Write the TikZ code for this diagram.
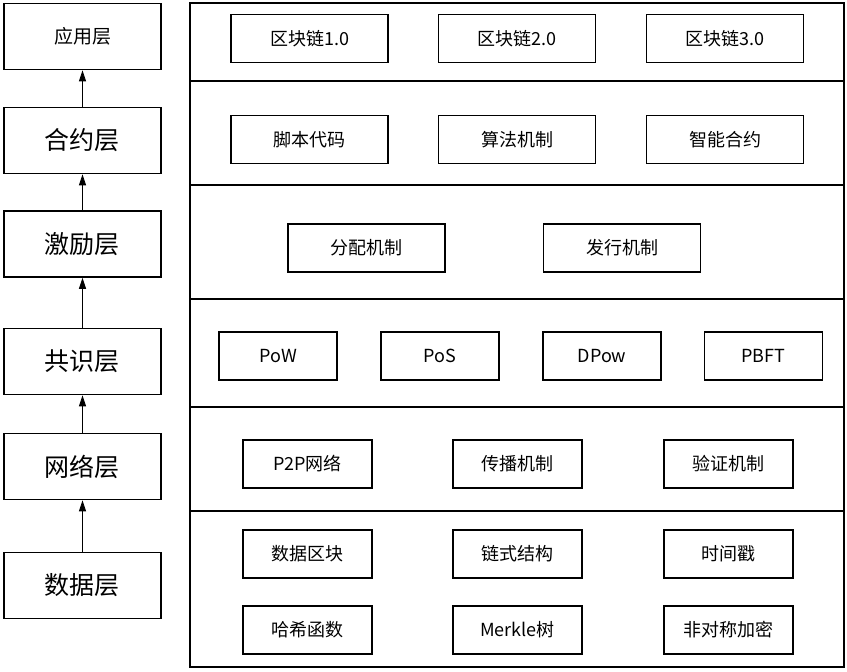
\documentclass[tikz,border=0pt]{standalone}
\usepackage{fontspec}
\setmainfont{Noto Sans CJK SC}
\usetikzlibrary{arrows.meta,positioning}
\tikzset{
  camada/.style={rectangle, draw=black, line width=1.6pt, fill=white,
                 minimum width=157pt, minimum height=66pt,
                 inner sep=0pt, font=\fontsize{25}{25}\selectfont},
  item/.style={rectangle, draw=black, line width=1.2pt, fill=white,
               minimum width=157pt, minimum height=48pt,
               inner sep=0pt, font=\fontsize{18}{18}\selectfont},
  itemcurto/.style={item, minimum width=118pt},
  itemmedio/.style={item, minimum width=129pt},
  seta/.style={-{Triangle[length=11pt,width=7pt]}, line width=0.9pt},
  divisoria/.style={line width=1.4pt},
}
\begin{document}
\begin{tikzpicture}[x=1pt,y=-1pt]
  \useasboundingbox (0,0) rectangle (847,672);
  % coluna das camadas
  \node[camada, font=\fontsize{19}{19}\selectfont] (app) at (82.5,36.5) {应用层};
  \node[camada] (contrato) at (82.5,140.5) {合约层};
  \node[camada] (incentivo) at (82.5,244) {激励层};
  \node[camada] (consenso) at (82.5,361.5) {共识层};
  \node[camada] (rede) at (82.5,466.5) {网络层};
  \node[camada] (dados) at (82.5,585.5) {数据层};
  \draw[seta] (dados.north) -- (rede.south);
  \draw[seta] (rede.north) -- (consenso.south);
  \draw[seta] (consenso.north) -- (incentivo.south);
  \draw[seta] (incentivo.north) -- (contrato.south);
  \draw[seta] (contrato.north) -- (app.south);
  % quadro da direita
  \draw[line width=1.6pt] (190,3) rectangle (844,667);
  \draw[divisoria] (190,81) -- (844,81);
  \draw[divisoria] (190,185) -- (844,185);
  \draw[divisoria] (190,299) -- (844,299);
  \draw[divisoria] (190,407) -- (844,407);
  \draw[divisoria] (190,511) -- (844,511);
  % aplicacao
  \node[item] (bc1) at (309.5,38.5) {区块链1.0};
  \node[item] (bc2) at (517,38.5) {区块链2.0};
  \node[item] (bc3) at (725,38.5) {区块链3.0};
  % contrato
  \node[item] (script) at (309.5,139.5) {脚本代码};
  \node[item] (algo) at (517,139.5) {算法机制};
  \node[item] (smart) at (725,139.5) {智能合约};
  % incentivo
  \node[item] (distrib) at (366.5,248) {分配机制};
  \node[item] (emissao) at (622,248) {发行机制};
  % consenso
  \node[itemcurto] (pow) at (278,356) {PoW};
  \node[itemcurto] (pos) at (440,356) {PoS};
  \node[itemcurto] (dpow) at (602,356) {DPow};
  \node[itemcurto] (pbft) at (763.5,356) {PBFT};
  % rede
  \node[itemmedio] (p2p) at (307.5,464) {P2P网络};
  \node[itemmedio] (propag) at (517.5,464) {传播机制};
  \node[itemmedio] (verif) at (728.5,464) {验证机制};
  % dados
  \node[itemmedio] (bloco) at (307.5,554) {数据区块};
  \node[itemmedio] (cadeia) at (517.5,554) {链式结构};
  \node[itemmedio] (tempo) at (728.5,554) {时间戳};
  \node[itemmedio] (hash) at (307.5,630) {哈希函数};
  \node[itemmedio] (merkle) at (517.5,630) {Merkle树};
  \node[itemmedio] (cripto) at (728.5,630) {非对称加密};
\end{tikzpicture}
\end{document}
